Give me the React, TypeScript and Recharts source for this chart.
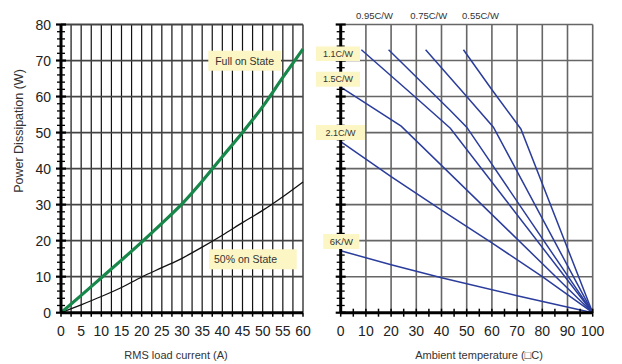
import React from 'react';
import { LineChart, Line, XAxis, YAxis, CartesianGrid } from 'recharts';

const FONT = '"Liberation Sans", Arial, Helvetica, sans-serif';

// ---------- Left chart: power dissipation vs RMS load current ----------
const loadCurrent = [0, 5, 10, 15, 20, 25, 30, 35, 40, 45, 50, 55, 60];
const fullOnState = [0, 4.8, 9.7, 14.6, 19.6, 24.8, 30.2, 36.5, 43.3, 50, 57.2, 65.3, 73.2];
const halfOnState = [0, 2.2, 4.5, 7, 9.9, 12.5, 15.1, 18.2, 21.5, 25, 28.4, 32.2, 36.3];

const currentTicks = [0, 2.5, 5, 7.5, 10, 12.5, 15, 17.5, 20, 22.5, 25, 27.5, 30, 32.5, 35, 37.5, 40, 42.5, 45, 47.5, 50, 52.5, 55, 57.5, 60];
const currentGrid = [2.5, 5, 7.5, 10, 12.5, 15, 17.5, 20, 22.5, 25, 27.5, 30, 32.5, 35, 37.5, 40, 42.5, 45, 47.5, 50, 52.5, 55, 57.5, 60];
const powerTicks = [0, 2, 4, 6, 8, 10, 12, 14, 16, 18, 20, 22, 24, 26, 28, 30, 32, 34, 36, 38, 40, 42, 44, 46, 48, 50, 52, 54, 56, 58, 60, 62, 64, 66, 68, 70, 72, 74, 76, 78, 80];
const powerGrid = [10, 20, 30, 40, 50, 60, 70, 80];
const powerLabels = [0, 10, 20, 30, 40, 50, 60, 70, 80];

// ---------- Right chart: power dissipation vs ambient temperature ----------
const tempTicks = [0, 5, 10, 15, 20, 25, 30, 35, 40, 45, 50, 55, 60, 65, 70, 75, 80, 85, 90, 95, 100];
const tempGrid = [10, 20, 30, 40, 50, 60, 70, 80, 90, 100];

const t055 = [48.7, 60.3, 71.5, 100];
const p055 = [73, 61.6, 51, 0];
const t075 = [33.7, 50, 60.6, 100];
const p075 = [73, 60, 51.5, 0];
const t095 = [19, 43.4, 50, 100];
const p095 = [73, 56.2, 51.5, 0];
const t110 = [8.2, 30, 43.5, 100];
const p110 = [73, 59.6, 51.2, 0];
const t150 = [0, 24, 100];
const p150 = [62.6, 51.8, 0];
const t210 = [0, 20, 40, 60, 80, 100];
const p210 = [47.5, 37.8, 28.5, 19.4, 10, 0];
const t600 = [0, 20, 40, 70, 100];
const p600 = [17.2, 13.3, 9.7, 4.7, 0];

const heatsinkSeries = [
  { name: '0.55C/W', t: t055, p: p055 },
  { name: '0.75C/W', t: t075, p: p075 },
  { name: '0.95C/W', t: t095, p: p095 },
  { name: '1.1C/W', t: t110, p: p110 },
  { name: '1.5C/W', t: t150, p: p150 },
  { name: '2.1C/W', t: t210, p: p210 },
  { name: '6K/W', t: t600, p: p600 },
];

const isMultiple = (v: number, step: number) => Math.abs(v / step - Math.round(v / step)) < 1e-6;

function BottomTick(props: any) {
  const { x, y, payload, labelEvery, cross } = props;
  const v = payload.value;
  const labeled = isMultiple(v, labelEvery);
  return (
    <g>
      <line x1={x} x2={x} y1={cross ? y - 4 : y} y2={y + 4} stroke="#000" strokeWidth={1.5} />
      {labeled && (
        <text x={x} y={y + 18.5} textAnchor="middle" dominantBaseline="central" fontSize={14} fill="#222" fontFamily={FONT}>
          {v}
        </text>
      )}
    </g>
  );
}

function LeftTick(props: any) {
  const { x, y, payload, showLabel } = props;
  const v = payload.value;
  const major = isMultiple(v, 10);
  const h = major ? 5 : 4;
  return (
    <g>
      <line x1={x - h} x2={x + h} y1={y} y2={y} stroke="#000" strokeWidth={major ? 2.2 : 1.3} />
      {showLabel && major && (
        <text x={x - 10} y={y} textAnchor="end" dominantBaseline="central" fontSize={14} fill="#222" fontFamily={FONT}>
          {v}
        </text>
      )}
    </g>
  );
}

function RightTick(props: any) {
  const { x, y, payload } = props;
  return (
    <text x={x + 7} y={y} textAnchor="start" dominantBaseline="central" fontSize={14} fill="#222" fontFamily={FONT}>
      {payload.value}
    </text>
  );
}

function Tag({ x, y, w, h, text, fs, anchor }: any) {
  return (
    <g>
      <rect x={x} y={y} width={w} height={h} fill="#fbf6c4" />
      <text
        x={anchor === 'start' ? x + 5 : x + w / 2}
        y={y + h / 2}
        textAnchor={anchor || 'middle'}
        dominantBaseline="central"
        fontSize={fs}
        fill="#333"
        fontFamily={FONT}
      >
        {text}
      </text>
    </g>
  );
}

export default function App() {
  const leftData = loadCurrent.map((c, i) => ({ c, full: fullOnState[i], half: halfOnState[i] }));
  const pts = (t: number[], p: number[]) => t.map((x, i) => ({ t: x, p: p[i] }));

  return (
    <div style={{ position: 'absolute', left: 0, top: 0, width: 622, height: 364, background: '#fff', fontFamily: FONT, overflow: 'hidden' }}>
      <div style={{ position: 'absolute', left: 0, top: 0 }}>
        <LineChart width={320} height={364} data={leftData} margin={{ top: 24.5, right: 17, bottom: 0, left: 0 }}>
          <CartesianGrid horizontal={false} verticalValues={currentGrid} stroke="#111" strokeWidth={1.2} />
          <CartesianGrid vertical={false} horizontalValues={powerGrid} stroke="#444" strokeWidth={1.8} />
          <XAxis
            type="number"
            dataKey="c"
            domain={[0, 60]}
            ticks={currentTicks}
            interval={0}
            height={51.3}
            tickSize={0}
            tickMargin={0}
            tickLine={false}
            axisLine={{ stroke: '#000', strokeWidth: 3 }}
            tick={<BottomTick labelEvery={5} cross={false} />}
          />
          <YAxis
            type="number"
            domain={[0, 80]}
            ticks={powerTicks}
            interval={0}
            width={61}
            tickSize={0}
            tickMargin={0}
            tickLine={false}
            axisLine={{ stroke: '#000', strokeWidth: 3 }}
            tick={<LeftTick showLabel={true} />}
          />
          <Line type="monotone" dataKey="half" stroke="#111" strokeWidth={1.3} dot={false} isAnimationActive={false} />
          <Line type="monotone" dataKey="full" stroke="#17874a" strokeWidth={3.2} dot={false} isAnimationActive={false} />
        </LineChart>
      </div>

      <div style={{ position: 'absolute', left: 310, top: 0 }}>
        <LineChart width={312} height={364} margin={{ top: 24.5, right: 0, bottom: 0, left: 0 }}>
          <CartesianGrid yAxisId="l" verticalValues={tempGrid} horizontalValues={powerGrid} stroke="#666" strokeWidth={1.6} />
          <XAxis
            type="number"
            dataKey="t"
            domain={[0, 100]}
            ticks={tempTicks}
            interval={0}
            height={51.3}
            tickSize={0}
            tickMargin={0}
            tickLine={false}
            axisLine={{ stroke: '#000', strokeWidth: 3 }}
            tick={<BottomTick labelEvery={10} cross={true} />}
          />
          <YAxis
            yAxisId="l"
            orientation="left"
            type="number"
            domain={[0, 80]}
            ticks={powerTicks}
            interval={0}
            width={30.7}
            tickSize={0}
            tickMargin={0}
            tickLine={false}
            axisLine={{ stroke: '#000', strokeWidth: 3 }}
            tick={<LeftTick showLabel={false} />}
          />
          <YAxis
            yAxisId="r"
            orientation="right"
            type="number"
            domain={[0, 80]}
            ticks={powerLabels}
            interval={0}
            width={29.3}
            tickSize={0}
            tickMargin={0}
            tickLine={false}
            axisLine={false}
            tick={<RightTick />}
          />
          {heatsinkSeries.map((s) => (
            <Line
              key={s.name}
              yAxisId="l"
              type="linear"
              data={pts(s.t, s.p)}
              dataKey="p"
              name={s.name}
              stroke="#2b3d9c"
              strokeWidth={1.5}
              dot={false}
              isAnimationActive={false}
            />
          ))}
        </LineChart>
      </div>

      <svg width={622} height={364} style={{ position: 'absolute', left: 0, top: 0, pointerEvents: 'none' }}>
        <text transform="translate(19,131) rotate(-90)" textAnchor="middle" dominantBaseline="central" fontSize={12.5} fill="#333" fontFamily={FONT}>
          Power Dissipation (W)
        </text>
        <text x={176} y={355} textAnchor="middle" dominantBaseline="central" fontSize={11} fill="#333" fontFamily={FONT}>
          RMS load current (A)
        </text>
        <text x={479} y={355} textAnchor="middle" dominantBaseline="central" fontSize={11} fill="#333" fontFamily={FONT}>
          Ambient temperature (□C)
        </text>

        <Tag x={208.3} y={50.7} w={72.7} h={20} text="Full on State" fs={10.5} />
        <Tag x={209} y={249.3} w={87.7} h={20} text="50% on State" fs={10.5} anchor="start" />

        <Tag x={316} y={46.5} w={44} h={14.5} text="1.1C/W" fs={9} />
        <Tag x={316} y={71.7} w={44} h={15} text="1.5C/W" fs={9} />
        <Tag x={316} y={125} w={49} h={15} text="2.1C/W" fs={9} />
        <Tag x={323.3} y={234} w={36} h={15} text="6K/W" fs={9.5} />

        <text x={374.5} y={15} textAnchor="middle" dominantBaseline="central" fontSize={9.5} fill="#333" fontFamily={FONT}>0.95C/W</text>
        <text x={428.7} y={15} textAnchor="middle" dominantBaseline="central" fontSize={9.5} fill="#333" fontFamily={FONT}>0.75C/W</text>
        <text x={480.5} y={15} textAnchor="middle" dominantBaseline="central" fontSize={9.5} fill="#333" fontFamily={FONT}>0.55C/W</text>
      </svg>
    </div>
  );
}
